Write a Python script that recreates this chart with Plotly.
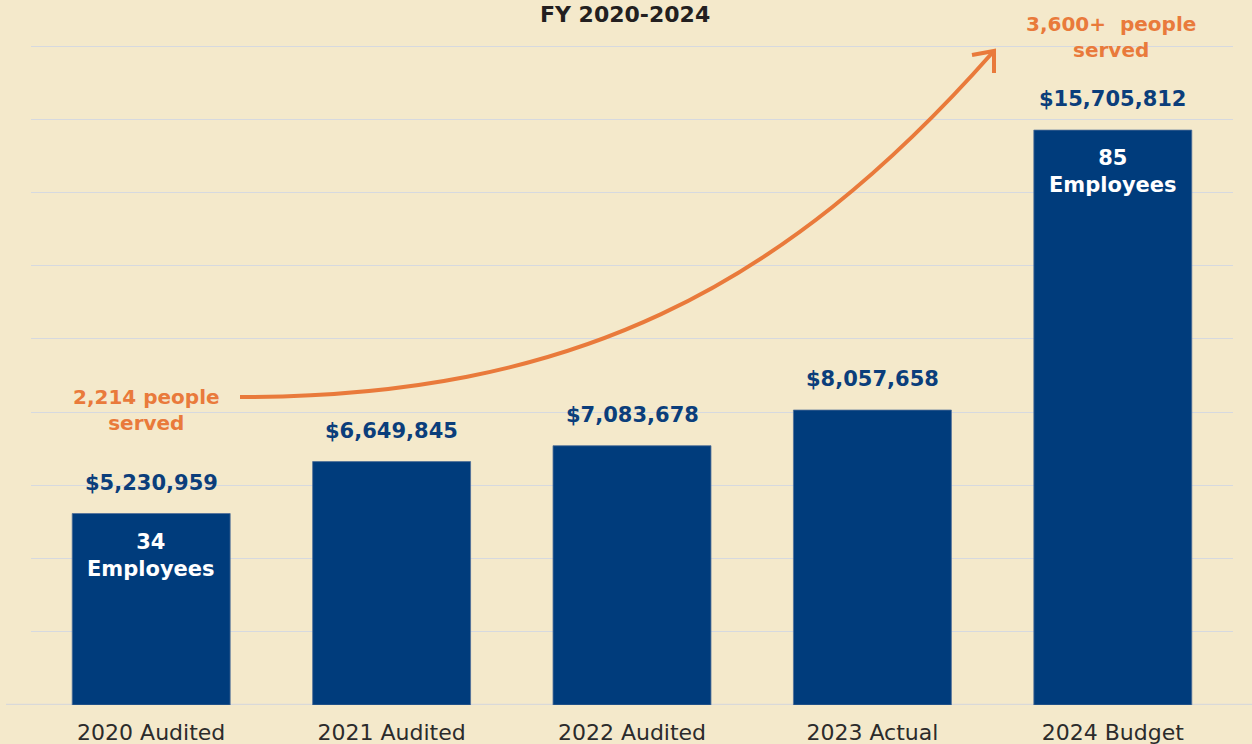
import plotly.graph_objects as go

categories = ["2020 Audited", "2021 Audited", "2022 Audited", "2023 Actual", "2024 Budget"]
budget = [5230959, 6649845, 7083678, 8057658, 15705812]
employees = [34, None, None, None, 85]
people_start = "2,214 people<br>served"
people_end = "3,600+\u00a0\u00a0people<br>served"
title_text = "FY 2020-2024"

BG = "#f4e9cb"
BLUE = "#003c7c"
TEXT_BLUE = "#0b3e7b"
ORANGE = "#e97a3b"
GRID = "#d6d9df"

W, H = 1252, 744
ML, MR, MT, MB = 31, 19, 0, 39
PW, PH = W - ML - MR, H - MT - MB


def px(x):
    return (x - ML) / PW


def py(y):
    return (H - MB - y) / PH


fig = go.Figure()
fig.add_trace(go.Bar(
    x=categories, y=budget,
    marker=dict(color=BLUE, line=dict(color="#4f6f98", width=0.8)),
    hoverinfo="skip",
))

annotations = []
for c, v in zip(categories, budget):
    annotations.append(dict(
        x=c, y=v, xref="x", yref="y", text=f"${v:,}", showarrow=False,
        yanchor="middle", yshift=31,
        font=dict(family="DejaVu Sans", size=21, color=TEXT_BLUE, weight="bold"),
    ))
for c, v, e in zip(categories, budget, employees):
    if e is None:
        continue
    annotations.append(dict(
        x=c, y=v, xref="x", yref="y", text=f"{e}<br>Employees", showarrow=False,
        yanchor="top", yshift=-14,
        font=dict(family="DejaVu Sans", size=21, color="white", weight="bold"),
    ))

annotations.append(dict(
    x=px(146), y=py(410), xref="paper", yref="paper", text=people_start,
    showarrow=False, xanchor="center", yanchor="middle",
    font=dict(family="DejaVu Sans", size=20, color=ORANGE, weight="bold"),
))
annotations.append(dict(
    x=px(1111), y=py(37), xref="paper", yref="paper", text=people_end,
    showarrow=False, xanchor="center", yanchor="middle",
    font=dict(family="DejaVu Sans", size=20, color=ORANGE, weight="bold"),
))
annotations.append(dict(
    x=px(625), y=py(14), xref="paper", yref="paper", text=title_text,
    showarrow=False, xanchor="center", yanchor="middle",
    font=dict(family="DejaVu Sans", size=22, color="#231f20", weight="bold"),
))

# curved arrow (decoration)
P0, P1, P2, P3 = (240, 397), (570, 397), (782, 291), (993, 52)
curve = (f"M {px(P0[0])},{py(P0[1])} C {px(P1[0])},{py(P1[1])} "
         f"{px(P2[0])},{py(P2[1])} {px(P3[0])},{py(P3[1])}")
head = (f"M {px(972)},{py(55)} L {px(994)},{py(51)} L {px(994)},{py(73)}")

shapes = [
    dict(type="line", xref="paper", yref="y", x0=px(6), x1=px(1252), y0=0, y1=0,
         line=dict(color="#d9d9d9", width=2.5), layer="below"),
    dict(type="path", xref="paper", yref="paper", path=curve,
         line=dict(color=ORANGE, width=4)),
    dict(type="path", xref="paper", yref="paper", path=head,
         line=dict(color=ORANGE, width=4)),
]

fig.update_layout(
    width=W, height=H,
    margin=dict(l=ML, r=MR, t=MT, b=MB),
    paper_bgcolor=BG, plot_bgcolor=BG,
    showlegend=False,
    bargap=0.343,
    annotations=annotations,
    shapes=shapes,
    xaxis=dict(
        showgrid=False, showline=False, zeroline=False,
        ticks="", ticklabelstandoff=12,
        tickfont=dict(family="DejaVu Sans", size=22, color="#2b2b2b"),
        fixedrange=True,
    ),
    yaxis=dict(
        range=[0, 19.26e6], dtick=2e6, tick0=0,
        showgrid=True, gridcolor=GRID, gridwidth=1.2,
        zeroline=False, showline=False, showticklabels=False, ticks="",
        fixedrange=True,
    ),
)

fig.write_html(
    "out.html",
    config={"displayModeBar": False},
    post_script="document.body.style.margin='0';document.body.style.overflow='hidden';",
)
